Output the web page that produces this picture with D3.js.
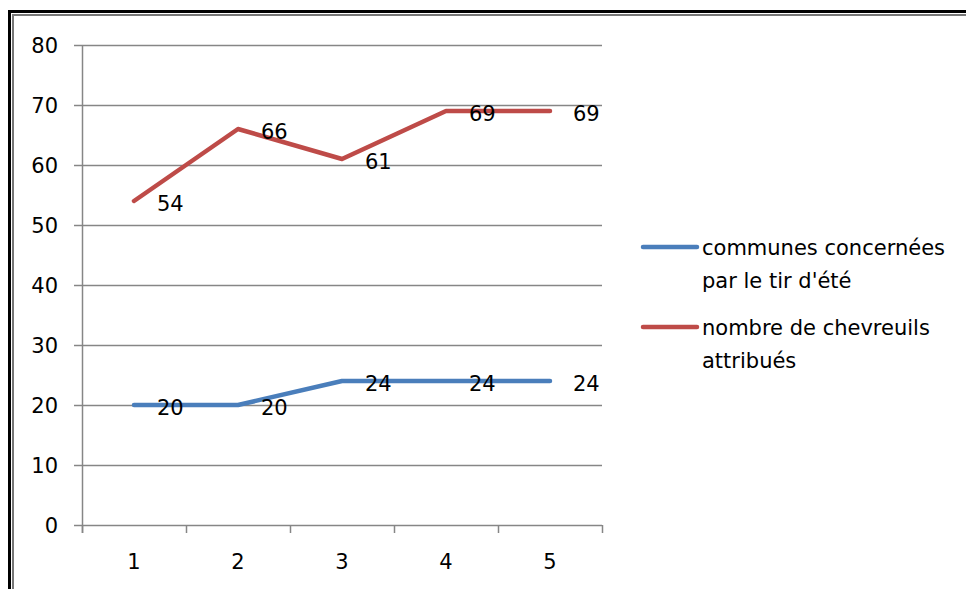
<!DOCTYPE html>
<html>
<head>
<meta charset="utf-8">
<script src="https://cdn.jsdelivr.net/npm/d3@7"></script>
<style>
  body { margin: 0; background: #fff; }
  text { font-family: "DejaVu Sans", sans-serif; fill: #000; }
</style>
</head>
<body>
<svg id="chart" width="966" height="589"></svg>
<script>
const categories = ['1', '2', '3', '4', '5'];
const communes = [20, 20, 24, 24, 24];
const chevreuils = [54, 66, 61, 69, 69];
const yTicks = [0, 10, 20, 30, 40, 50, 60, 70, 80];
const seriesNames = [["communes concernées", "par le tir d'été"], ["nombre de chevreuils", "attribués"]];
const seriesColors = ['#4a7ebb', '#be4b48'];

const svg = d3.select('#chart');

// double frame
svg.append('path')
    .attr('d', 'M9.5,589 V11.5 H966')
    .attr('fill', 'none').attr('stroke', '#000').attr('stroke-width', 3);
svg.append('path')
    .attr('d', 'M13,589 V15 H966')
    .attr('fill', 'none').attr('stroke', '#777').attr('stroke-width', 2);

const margin = {left: 82, top: 45, right: 602, bottom: 525};

const xScale = d3.scaleBand()
    .domain(categories)
    .range([margin.left, margin.right]);
const yScale = d3.scaleLinear()
    .domain([0, 80])
    .range([margin.bottom, margin.top]);

// gridlines + y ticks
const grid = svg.append('g');
grid.selectAll('line')
    .data(yTicks)
    .enter().append('line')
    .attr('x1', margin.left - 8)
    .attr('x2', margin.right)
    .attr('y1', d => Math.round(yScale(d)) + 0.5)
    .attr('y2', d => Math.round(yScale(d)) + 0.5)
    .attr('stroke', '#868686')
    .attr('stroke-width', 1.5);

grid.selectAll('text')
    .data(yTicks)
    .enter().append('text')
    .attr('x', 58)
    .attr('y', d => yScale(d))
    .attr('dy', '0.36em')
    .attr('text-anchor', 'end')
    .style('font-size', '21px')
    .text(d => d);

// y axis line
svg.append('line')
    .attr('x1', margin.left + 0.5).attr('x2', margin.left + 0.5)
    .attr('y1', margin.top).attr('y2', margin.bottom + 8)
    .attr('stroke', '#868686').attr('stroke-width', 1.5);

// x ticks at band boundaries
const bounds = categories.map(c => xScale(c)).concat([margin.right]);
svg.append('g').selectAll('line')
    .data(bounds)
    .enter().append('line')
    .attr('x1', d => Math.round(d) + 0.5)
    .attr('x2', d => Math.round(d) + 0.5)
    .attr('y1', margin.bottom)
    .attr('y2', margin.bottom + 8)
    .attr('stroke', '#868686')
    .attr('stroke-width', 1.5);

svg.append('g').selectAll('text')
    .data(categories)
    .enter().append('text')
    .attr('x', d => xScale(d) + xScale.bandwidth() / 2)
    .attr('y', 561)
    .attr('dy', '0.36em')
    .attr('text-anchor', 'middle')
    .style('font-size', '21px')
    .text(d => d);

// series
const line = d3.line()
    .x((d, i) => xScale(categories[i]) + xScale.bandwidth() / 2)
    .y(d => yScale(d));

[communes, chevreuils].forEach((values, s) => {
    svg.append('path')
        .datum(values)
        .attr('d', line)
        .attr('fill', 'none')
        .attr('stroke', seriesColors[s])
        .attr('stroke-width', 4.5)
        .attr('stroke-linejoin', 'round')
        .attr('stroke-linecap', 'round');

    svg.append('g').selectAll('text')
        .data(values)
        .enter().append('text')
        .attr('x', (d, i) => xScale(categories[i]) + xScale.bandwidth() / 2 + 23)
        .attr('y', d => yScale(d) + 2)
        .attr('dy', '0.36em')
        .style('font-size', '21px')
        .text(d => d);
});

// legend
const legend = svg.append('g');
seriesNames.forEach((lines, s) => {
    const y0 = 247 + s * 80;
    legend.append('line')
        .attr('x1', 643).attr('x2', 697)
        .attr('y1', y0).attr('y2', y0)
        .attr('stroke', seriesColors[s])
        .attr('stroke-width', 4.5)
        .attr('stroke-linecap', 'round');
    lines.forEach((t, k) => {
        legend.append('text')
            .attr('x', 702)
            .attr('y', y0 + k * 33)
            .attr('dy', '0.36em')
            .style('font-size', '21px')
            .text(t);
    });
});
</script>
</body>
</html>
